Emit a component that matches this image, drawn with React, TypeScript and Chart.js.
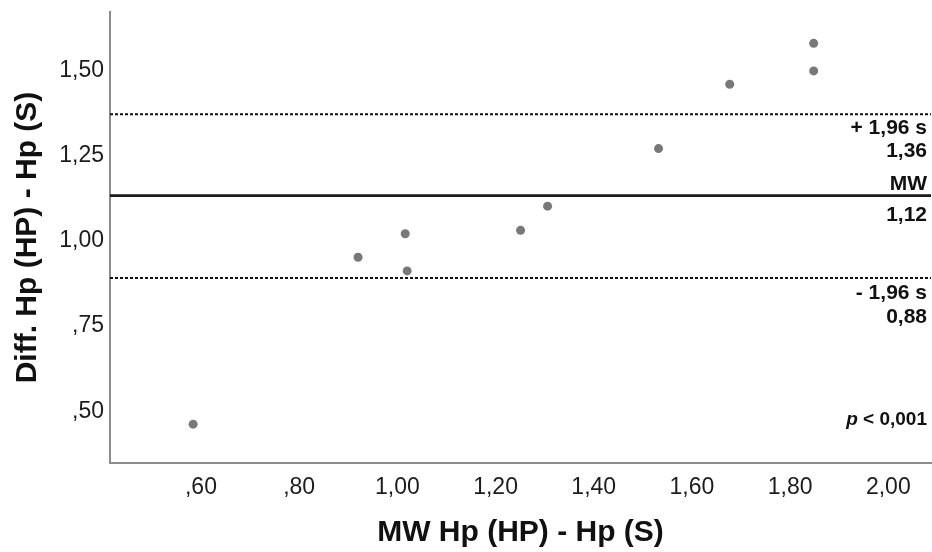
import React, { useEffect, useRef } from "react";
import { Chart, registerables } from "chart.js";

Chart.register(...registerables);

// Mean of the two methods (x) and their difference (y)
const meanValues = [0.584, 0.92, 1.016, 1.02, 1.251, 1.306, 1.532, 1.677, 1.848, 1.848];
const diffValues = [0.462, 0.952, 1.021, 0.912, 1.031, 1.102, 1.271, 1.46, 1.499, 1.58];

// Reference lines (as plotted)
const meanDiff = 1.133;
const upperLimit = 1.372;
const lowerLimit = 0.891;

// Line annotation texts
const upperLabels = ["+ 1,96 s", "1,36"];
const meanLabels = ["MW", "1,12"];
const lowerLabels = ["- 1,96 s", "0,88"];
const pLabelItalic = "p";
const pLabelRest = " < 0,001";

// Axis ticks
const xTicks = [0.6, 0.8, 1.0, 1.2, 1.4, 1.6, 1.8, 2.0];
const xTickLabels = [",60", ",80", "1,00", "1,20", "1,40", "1,60", "1,80", "2,00"];
const yTicks = [0.5, 0.75, 1.0, 1.25, 1.5];
const yTickLabels = [",50", ",75", "1,00", "1,25", "1,50"];

const X_MIN = 0.4147;
const X_MAX = 2.087;
const Y_MIN = 0.348;
const Y_MAX = 1.672;

const xTitle = "MW Hp (HP) - Hp (S)";
const yTitle = "Diff. Hp (HP) - Hp (S)";

const FONT = "'Liberation Sans', Arial, sans-serif";

export default function App() {
  const ref = useRef<HTMLCanvasElement>(null);

  useEffect(() => {
    const canvas = ref.current;
    if (!canvas) return;

    const annotPlugin = {
      id: "annot",
      afterDatasetsDraw(chart: any) {
        const { ctx, chartArea, scales } = chart;
        const y = scales.y;
        const xr = chartArea.right - 4;
        ctx.save();
        ctx.fillStyle = "#111";
        ctx.textAlign = "right";
        ctx.textBaseline = "middle";
        ctx.font = `bold 21px ${FONT}`;
        const yu = y.getPixelForValue(upperLimit);
        ctx.fillText(upperLabels[0], xr, yu + 14);
        ctx.fillText(upperLabels[1], xr, yu + 37);
        const ym = y.getPixelForValue(meanDiff);
        ctx.fillText(meanLabels[0], xr, ym - 11);
        ctx.fillText(meanLabels[1], xr, ym + 20);
        const yl = y.getPixelForValue(lowerLimit);
        ctx.fillText(lowerLabels[0], xr, yl + 15);
        ctx.fillText(lowerLabels[1], xr, yl + 39);
        // p-value
        ctx.font = `bold 19px ${FONT}`;
        const py = chartArea.bottom - 43;
        const w = ctx.measureText(pLabelRest).width;
        ctx.fillText(pLabelRest, xr, py);
        ctx.font = `italic bold 19px ${FONT}`;
        ctx.fillText(pLabelItalic, xr - w, py);
        ctx.restore();
      },
    };

    const points = meanValues.map((x, i) => ({ x, y: diffValues[i] }));
    const hLine = (v: number) => [
      { x: X_MIN, y: v },
      { x: X_MAX, y: v },
    ];

    const chart = new Chart(canvas, {
      type: "scatter",
      data: {
        datasets: [
          {
            type: "scatter",
            data: points,
            backgroundColor: "#787878",
            borderWidth: 0,
            pointRadius: 4.5,
            pointHoverRadius: 4.5,
          } as any,
          {
            type: "line",
            data: hLine(upperLimit),
            borderColor: "#111",
            borderWidth: 2,
            borderDash: [3, 2],
            pointRadius: 0,
            fill: false,
          } as any,
          {
            type: "line",
            data: hLine(meanDiff),
            borderColor: "#1a1a1a",
            borderWidth: 2.6,
            pointRadius: 0,
            fill: false,
          } as any,
          {
            type: "line",
            data: hLine(lowerLimit),
            borderColor: "#111",
            borderWidth: 2,
            borderDash: [3, 2],
            pointRadius: 0,
            fill: false,
          } as any,
        ],
      },
      options: {
        animation: false,
        responsive: false,
        events: [],
        layout: { autoPadding: false, padding: { top: 12, right: 1, left: 0, bottom: 0 } },
        plugins: {
          legend: { display: false },
          tooltip: { enabled: false },
        },
        scales: {
          x: {
            type: "linear",
            min: X_MIN,
            max: X_MAX,
            grid: { display: false, drawTicks: false },
            border: { display: true, color: "#8c8c8c", width: 2 },
            ticks: {
              font: { family: FONT, size: 23 },
              color: "#1c1c1c",
              padding: 11,
              maxRotation: 0,
              callback: (_v: any, i: number) => xTickLabels[i],
            },
            afterBuildTicks: (s: any) => {
              s.ticks = xTicks.map((v) => ({ value: v }));
            },
            afterFit: (s: any) => {
              s.height = 89;
              s.paddingLeft = 0;
              s.paddingRight = 0;
            },
            title: {
              display: true,
              text: xTitle,
              color: "#111",
              font: { family: FONT, size: 30, weight: "bold", lineHeight: 1.2 },
              padding: { top: 0, bottom: 1 },
            },
          },
          y: {
            type: "linear",
            min: Y_MIN,
            max: Y_MAX,
            grid: { display: false, drawTicks: false },
            border: { display: true, color: "#8c8c8c", width: 2 },
            ticks: {
              font: { family: FONT, size: 23 },
              color: "#1c1c1c",
              padding: 6,
              callback: (_v: any, i: number) => yTickLabels[i],
            },
            afterBuildTicks: (s: any) => {
              s.ticks = yTicks.map((v) => ({ value: v }));
            },
            afterFit: (s: any) => {
              s.width = 110;
              s.paddingTop = 0;
              s.paddingBottom = 0;
            },
            title: {
              display: true,
              text: yTitle,
              color: "#111",
              font: { family: FONT, size: 30, weight: "bold", lineHeight: 1.2 },
              padding: { top: 10, bottom: 0 },
            },
          },
        },
      },
      plugins: [annotPlugin],
    } as any);

    return () => chart.destroy();
  }, []);

  return (
    <div style={{ position: "absolute", left: 0, top: 0, width: 932, height: 552 }}>
      <canvas ref={ref} width={932} height={552} style={{ display: "block" }} />
    </div>
  );
}
